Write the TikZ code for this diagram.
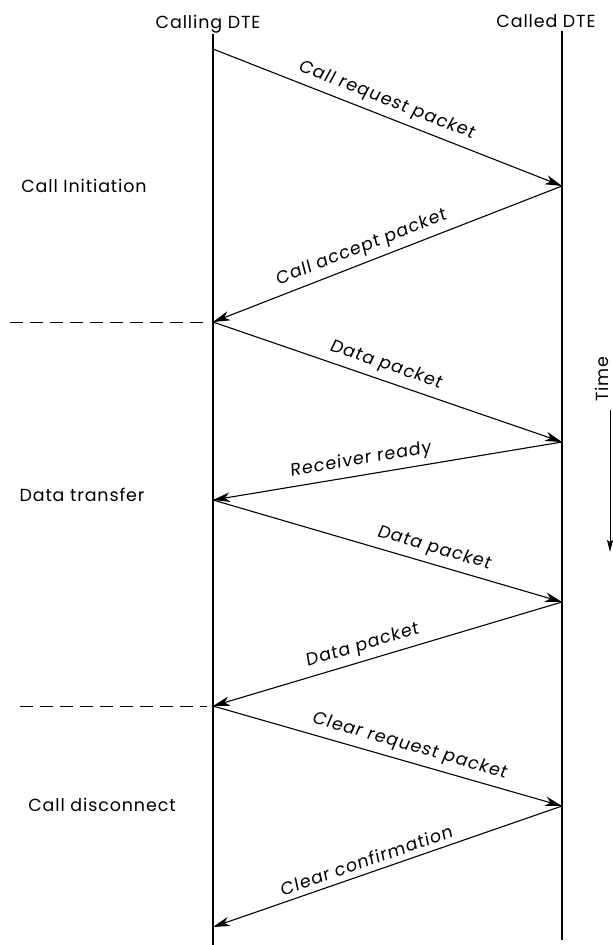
\documentclass[tikz,border=0pt]{standalone}
\usepackage{fontspec}
\setmainfont{Poppins}[LetterSpace=5]
\newfontfamily\msgfont{Poppins}[FakeSlant=0.12,LetterSpace=6]
\usetikzlibrary{arrows.meta}
\begin{document}
\begin{tikzpicture}[x=1pt,y=-1pt,
  lifeline/.style={line width=1.2pt},
  msg/.style={line width=1.1pt,-{Stealth[length=17pt,width=9.5pt,inset=5pt]}},
  msglabel/.style={font=\msgfont\fontsize{17.5}{20}\selectfont,sloped,above=6pt,inner sep=0pt},
  sidelabel/.style={font=\fontsize{17.5}{20}\selectfont,inner sep=0pt},
  phasesep/.style={line width=1pt,dash pattern=on 13pt off 7pt}]
\useasboundingbox (0,0) rectangle (613,945);
% lifelines
\coordinate (Ltop) at (213,34);
\coordinate (Lbot) at (213,945);
\coordinate (Rtop) at (562,31);
\coordinate (Rbot) at (562,940);
\draw[lifeline] (Ltop) -- (Lbot);
\draw[lifeline] (Rtop) -- (Rbot);
\node[sidelabel,anchor=base] (calling) at (208,28) {Calling DTE};
\node[sidelabel,anchor=base] (called) at (546,27) {Called DTE};
% events
\coordinate (l1) at (213,49);
\coordinate (r1) at (562,186);
\coordinate (l2) at (213,322);
\coordinate (r2) at (562,442);
\coordinate (l3) at (213,500);
\coordinate (r3) at (562,602);
\coordinate (l4) at (213,706);
\coordinate (r4) at (562,806);
\coordinate (l5) at (213,927);
% messages
\draw[msg] (l1) -- (r1) node[msglabel,pos=0.48] (m1) {Call request packet};
\draw[msg] (r1) -- (l2);
\path (l2) -- (r1) node[msglabel,pos=0.44] (m2) {Call accept packet};
\draw[msg] (l2) -- (r2) node[msglabel,pos=0.48] (m3) {Data packet};
\draw[msg] (r2) -- (l3);
\path (l3) -- (r2) node[msglabel,pos=0.43] (m4) {Receiver ready};
\draw[msg] (l3) -- (r3) node[msglabel,pos=0.62] (m5) {Data packet};
\draw[msg] (r3) -- (l4);
\path (l4) -- (r3) node[msglabel,pos=0.44] (m6) {Data packet};
\draw[msg] (l4) -- (r4) node[msglabel,pos=0.55] (m7) {Clear request packet};
\draw[msg] (r4) -- (l5);
\path (l5) -- (r4) node[msglabel,pos=0.45] (m8) {Clear confirmation};
% phase separators
\coordinate (d1) at (10,322);
\coordinate (d2) at (20,706);
\draw[phasesep] (d1) -- ([xshift=-8pt]l2);
\draw[phasesep] (d2) -- ([xshift=-6pt]l4);
% phase labels
\node[sidelabel] (p1) at (84,186) {Call Initiation};
\node[sidelabel] (p2) at (82,495) {Data transfer};
\node[sidelabel] (p3) at (102,805) {Call disconnect};
% time
\node[sidelabel,rotate=90] (time) at (602,379) {Time};
\coordinate (t1) at (610,410);
\coordinate (t2) at (610,552);
\draw[line width=1pt,-{Stealth[length=12pt,width=6pt,inset=2pt]}] (t1) -- (t2);
\end{tikzpicture}
\end{document}
